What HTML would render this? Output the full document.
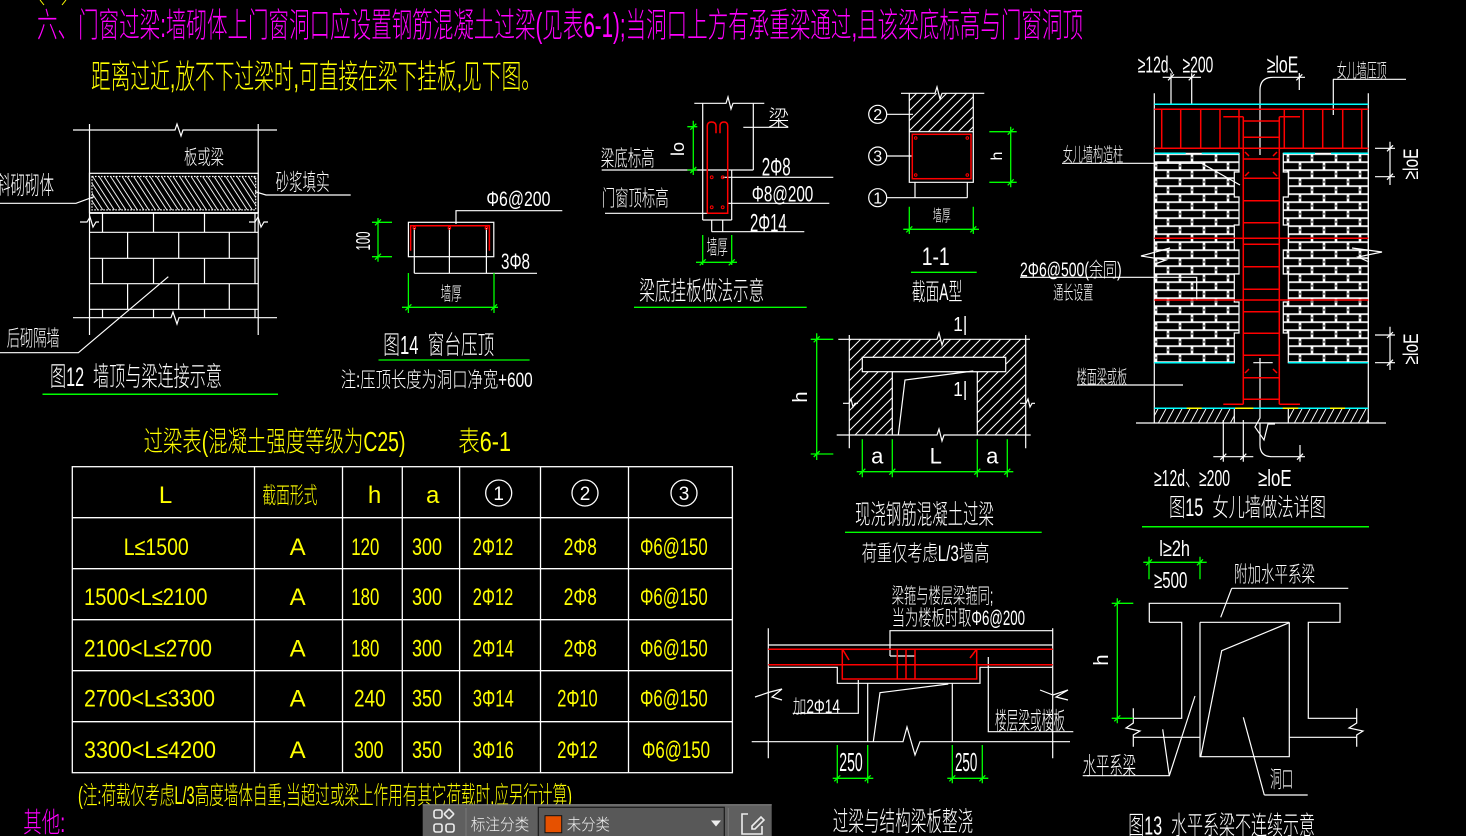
<!DOCTYPE html>
<html><head><meta charset="utf-8">
<style>
html,body{margin:0;padding:0;background:#000;width:1466px;height:836px;overflow:hidden;}
svg{display:block}
text{font-family:"Liberation Sans","Noto Sans CJK SC",sans-serif;font-weight:300;white-space:pre;}
</style></head><body>
<svg width="1466" height="836" viewBox="0 0 1466 836" xmlns="http://www.w3.org/2000/svg">
<defs>
<pattern id="h10" patternUnits="userSpaceOnUse" width="10" height="10">
<path d="M0,10 L10,0 M-1,1 L1,-1 M9,11 L11,9" stroke="#fff" stroke-width="1"/>
</pattern>
<pattern id="h8" patternUnits="userSpaceOnUse" width="8" height="15">
<path d="M0,15 L8,0 M-4,7.5 L0,0 M8,15 L12,7.5" stroke="#fff" stroke-width="1"/>
</pattern>
<pattern id="brick" patternUnits="userSpaceOnUse" x="1142.7" y="153.3" width="24" height="16">
<rect width="24" height="16" fill="#000"/>
<rect y="0" width="24" height="1.7" fill="#fff"/>
<rect y="8" width="24" height="1.7" fill="#fff"/>
<rect x="0" y="0" width="2.6" height="8" fill="#fff"/>
<rect x="0.8" y="3.5" width="1" height="2" fill="#000"/>
<rect x="12" y="8" width="2.6" height="8" fill="#fff"/>
<rect x="12.8" y="11.5" width="1" height="2" fill="#000"/>
</pattern>
<pattern id="slant" patternUnits="userSpaceOnUse" width="11.5" height="40" patternTransform="skewX(33)">
<path d="M1,0 V40 M7.5,0 V40" stroke="#fff" stroke-width="1.1"/>
</pattern>
</defs>

<!-- ===== Header ===== -->
<path d="M40,0 L44,5 M62,5 L66,0" stroke="#ff0" stroke-width="1"/>
<text x="37" y="37" font-size="34" fill="#f0f" textLength="1046" lengthAdjust="spacingAndGlyphs">六、门窗过梁:墙砌体上门窗洞口应设置钢筋混凝土过梁(见表6-1);当洞口上方有承重梁通过,且该梁底标高与门窗洞顶</text>
<text x="91" y="88" font-size="33" fill="#ff0" textLength="450" lengthAdjust="spacingAndGlyphs">距离过近,放不下过梁时,可直接在梁下挂板,见下图。</text>

<!-- ===== Fig 12 ===== -->
<g stroke="#fff" stroke-width="1.2" fill="none">
<path d="M73,130 H175 L177,124 L181,136 L183,130 H277"/>
<path d="M89.5,124 V335 M258.2,124 V335"/>
<rect x="89.5" y="173.3" width="168.7" height="39.4"/>
<rect x="92" y="176.5" width="163.7" height="33.4" fill="url(#slant)" stroke-dasharray="1.5 1.5"/>
<path d="M89.5,213.3 H258.2 M89.5,232.3 H258.2 M89.5,258.3 H258.2 M89.5,283.7 H258.2 M89.5,309.3 H258.2"/>
<path d="M73,317.7 H171 L173,312 L177,324 L179,317.7 H277"/>
<path d="M102.5,213.3 V232.3 M153.5,213.3 V232.3 M204.5,213.3 V232.3 M255,213.3 V232.3"/>
<path d="M127.6,232.3 V258.3 M178.7,232.3 V258.3 M229.3,232.3 V258.3"/>
<path d="M102.5,258.3 V283.7 M153.5,258.3 V283.7 M204.5,258.3 V283.7 M255,258.3 V283.7"/>
<path d="M127.6,283.7 V309.3 M178.7,283.7 V309.3 M229.3,283.7 V309.3"/>
<path d="M102.5,309.3 V317.7 M153.5,309.3 V317.7 M204.5,309.3 V317.7 M255,309.3 V317.7"/>
<path d="M80,222 H87 L90,217 L93,227 L96,222 H99 M249,222 H255 L258,217 L261,227 L264,222 H268"/>
<path d="M0,203.3 H76 L94,196.7"/>
<path d="M350.7,195 H266 L255,191.7"/>
<path d="M0,352.7 H78.4 L168.3,276.7"/>
</g>
<line x1="42.5" y1="394.3" x2="278" y2="394.3" stroke="#0f0" stroke-width="1.5"/>
<g fill="#fff">
<text x="184" y="164" font-size="20" textLength="40" lengthAdjust="spacingAndGlyphs">板或梁</text>
<text x="-4" y="194" font-size="25" textLength="58" lengthAdjust="spacingAndGlyphs">斜砌砌体</text>
<text x="275.6" y="190" font-size="23" textLength="54" lengthAdjust="spacingAndGlyphs">砂浆填实</text>
<text x="6.7" y="346" font-size="22" textLength="53" lengthAdjust="spacingAndGlyphs">后砌隔墙</text>
<text x="50" y="386" font-size="27" textLength="172" lengthAdjust="spacingAndGlyphs">图12  墙顶与梁连接示意</text>
</g>

<!-- ===== Fig 14 ===== -->
<g stroke="#fff" stroke-width="1.2" fill="none">
<rect x="408.4" y="222.3" width="85.4" height="34.4"/>
<path d="M414.3,228 V273.3 M449.4,228 V273.3 M486.4,228 V273.3 M414.3,273.3 H537"/>
<path d="M456,224 V210.7 H562.3"/>
</g>
<path d="M410.6,250.7 V225.7 H489.4 V250.7" stroke="#f00" stroke-width="1.5" fill="none"/>
<g stroke="#f00" fill="none" stroke-width="1"><circle cx="414.3" cy="228" r="1.3"/><circle cx="449.4" cy="228" r="1.3"/><circle cx="486.4" cy="228" r="1.3"/></g>
<g stroke="#0f0" stroke-width="1.3" fill="none">
<path d="M378,218 V261.7 M372,222.3 H392 M372,256.7 H392"/>
<path d="M375,225.3 L381,219.3 M375,259.7 L381,253.7"/>
<path d="M402,307.3 H498 M408.4,273 V313 M494,273 V313"/>
<path d="M405.4,310.3 L411.4,304.3 M491,310.3 L497,304.3"/>
<path d="M378.5,360 H529.6"/>
</g>
<g fill="#fff">
<text x="486.4" y="206" font-size="21" textLength="64" lengthAdjust="spacingAndGlyphs">Φ6@200</text>
<text x="501" y="269" font-size="22" textLength="29" lengthAdjust="spacingAndGlyphs">3Φ8</text>
<text transform="translate(370,241) rotate(-90)" text-anchor="middle" font-size="20" textLength="19" lengthAdjust="spacingAndGlyphs">100</text>
<text x="440.7" y="300" font-size="19" textLength="21" lengthAdjust="spacingAndGlyphs">墙厚</text>
<text x="383.3" y="354" font-size="26" textLength="111" lengthAdjust="spacingAndGlyphs">图14  窗台压顶</text>
<text x="340.7" y="387" font-size="21" textLength="192" lengthAdjust="spacingAndGlyphs">注:压顶长度为洞口净宽+600</text>
</g>

<!-- ===== 梁底挂板 ===== -->
<g stroke="#fff" stroke-width="1.2" fill="none">
<path d="M694.3,103.3 H726 L728,97 L731,109 L733,103.3 H764.3"/>
<path d="M702.7,103.3 V220 M753.3,103.3 V170 M601.7,170 H753.3 M731.7,170 V220 M605,213.3 H707.7"/>
<path d="M702.7,220 H731.7 M711.7,220 V231.7 M722.7,220 V231.7 M711.7,231.7 H804.3"/>
<path d="M743.3,127.3 H788.3 M722.7,177.3 H833.3 M727.7,203.3 H829.3"/>
</g>
<path d="M707.3,213.3 V126 Q707.3,122 711.5,122 Q716,122 716,126 V133.3 M720,133.3 V126 Q720,122 724,122 Q727.7,122 727.7,126 V213.3 H707.3" stroke="#f00" stroke-width="1.5" fill="none"/>
<g stroke="#f00" fill="none" stroke-width="1"><circle cx="711.7" cy="177.3" r="1.4"/><circle cx="722.7" cy="177.3" r="1.4"/><circle cx="711.7" cy="207.3" r="1.4"/><circle cx="722.7" cy="207.3" r="1.4"/></g>
<g stroke="#0f0" stroke-width="1.3" fill="none">
<path d="M693.3,120.7 V175 M687.3,126.7 H697.3 M687.3,170 H697.3"/>
<path d="M690.3,129.7 L696.3,123.7 M690.3,173 L696.3,167"/>
<path d="M702.7,235 V265 M731.7,235 V265 M696,262.3 H737"/>
<path d="M699.7,265.3 L705.7,259.3 M728.7,265.3 L734.7,259.3"/>
<path d="M634,307.3 H806.7"/>
</g>
<g fill="#fff">
<text x="768.3" y="126" font-size="22" textLength="21" lengthAdjust="spacingAndGlyphs">梁</text>
<text x="600.7" y="166" font-size="22" textLength="54" lengthAdjust="spacingAndGlyphs">梁底标高</text>
<text x="601.7" y="206" font-size="22" textLength="67" lengthAdjust="spacingAndGlyphs">门窗顶标高</text>
<text transform="translate(684,149) rotate(-90)" text-anchor="middle" font-size="18" textLength="14" lengthAdjust="spacingAndGlyphs">lo</text>
<text x="761.7" y="175.5" font-size="25" textLength="29" lengthAdjust="spacingAndGlyphs">2Φ8</text>
<text x="751.7" y="201.5" font-size="22" textLength="61.6" lengthAdjust="spacingAndGlyphs">Φ8@200</text>
<text x="750" y="231.5" font-size="25" textLength="36.7" lengthAdjust="spacingAndGlyphs">2Φ14</text>
<text x="706.7" y="254" font-size="20" textLength="21" lengthAdjust="spacingAndGlyphs">墙厚</text>
<text x="639.3" y="300" font-size="26" textLength="125" lengthAdjust="spacingAndGlyphs">梁底挂板做法示意</text>
</g>

<!-- ===== Section 1-1 ===== -->
<rect x="909.3" y="93.3" width="64" height="38.4" fill="url(#h10)"/>
<g stroke="#fff" stroke-width="1.2" fill="none">
<path d="M901,93.3 H935 L937,87 L940,99 L942,93.3 H984.3"/>
<path d="M909.3,93.3 V182.3 H973.3 V93.3 M909.3,131.7 H973.3"/>
<path d="M886.7,197.7 H967.3 M915,182.3 V197.7 M967.3,182.3 V197.7 M887,114.3 H913 M887,156 H912.3"/>
<circle cx="877.7" cy="114.3" r="9"/><circle cx="877.7" cy="156" r="9"/><circle cx="877.7" cy="197.7" r="9"/>
</g>
<rect x="912.3" y="134.3" width="58.7" height="44.4" stroke="#f00" stroke-width="1.5" fill="none"/>
<g stroke="#f00" fill="none" stroke-width="1"><circle cx="915.7" cy="138" r="1.3"/><circle cx="967.3" cy="138" r="1.3"/><circle cx="915.7" cy="175" r="1.3"/><circle cx="967.3" cy="175" r="1.3"/></g>
<g stroke="#0f0" stroke-width="1.3" fill="none">
<path d="M1010.7,126.7 V187.3 M989.3,131.7 H1016.7 M989.3,182.3 H1016.7"/>
<path d="M1007.7,134.7 L1013.7,128.7 M1007.7,185.3 L1013.7,179.3"/>
<path d="M903.3,229.3 H979 M909.3,206.7 V234 M973.3,206.7 V234"/>
<path d="M906.3,232.3 L912.3,226.3 M970.3,232.3 L976.3,226.3"/>
<path d="M911,272.3 H976.7"/>
</g>
<g fill="#fff">
<text x="877.7" y="120" font-size="16" text-anchor="middle">2</text>
<text x="877.7" y="161.7" font-size="16" text-anchor="middle">3</text>
<text x="877.7" y="203.4" font-size="16" text-anchor="middle">1</text>
<text transform="translate(1002,156) rotate(-90)" text-anchor="middle" font-size="16">h</text>
<text x="932.7" y="221" font-size="16" textLength="18" lengthAdjust="spacingAndGlyphs">墙厚</text>
<text x="921.7" y="265" font-size="25" textLength="28" lengthAdjust="spacingAndGlyphs">1-1</text>
<text x="911.7" y="300" font-size="24" textLength="50.6" lengthAdjust="spacingAndGlyphs">截面A型</text>
</g>

<!-- ===== 现浇钢筋混凝土过梁 ===== -->
<path d="M849.3,339.3 H1025.7 V435 H977.3 V371.7 H892.3 V435 H849.3 Z" fill="url(#h10)"/>
<g stroke="#fff" stroke-width="1.2" fill="none">
<path d="M838.3,339.3 H937 L939,333 L942,345 L944,339.3 H1030"/>
<path d="M849.3,335 V448.3 M1025.7,335 V448.3"/>
<path d="M836.7,435 H937 L939,429 L942,441 L944,435 H1030.7"/>
<path d="M892.3,371.7 V435 M977.3,371.7 V435 M892.3,371.7 H977.3"/>
<rect x="862.3" y="357.3" width="143.4" height="14.4" fill="#000"/>
<path d="M898.3,435 L905,380 L973.3,371"/>
<path d="M843,403.3 H849 L851,399 L853,407 L855,403.3 H858 M1020,403.3 H1026 L1028,399 L1030,407 L1032,403.3 H1035"/>
</g>
<g stroke="#0f0" stroke-width="1.3" fill="none">
<path d="M816.7,333.3 V460 M810.7,339.3 H833.3 M810.7,454 H833.3"/>
<path d="M813.7,342.3 L819.7,336.3 M813.7,457 L819.7,451"/>
<path d="M856.7,471.7 H1013.3 M862.3,439.3 V477.3 M892.3,439.3 V477.3 M977.3,439.3 V477.3 M1007.3,439.3 V477.3"/>
<path d="M859.3,474.7 L865.3,468.7 M889.3,474.7 L895.3,468.7 M974.3,474.7 L980.3,468.7 M1004.3,474.7 L1010.3,468.7"/>
<path d="M845,532.3 H1041.7"/>
</g>
<g fill="#fff">
<text x="953.3" y="331" font-size="20" textLength="14" lengthAdjust="spacingAndGlyphs">1|</text>
<text x="953.3" y="396" font-size="20" textLength="14" lengthAdjust="spacingAndGlyphs">1|</text>
<text transform="translate(807,397) rotate(-90)" text-anchor="middle" font-size="20">h</text>
<text x="877.3" y="463.3" font-size="22" text-anchor="middle">a</text>
<text x="935.7" y="463.3" font-size="22" text-anchor="middle">L</text>
<text x="992.3" y="463.3" font-size="22" text-anchor="middle">a</text>
<text x="855" y="524" font-size="27" textLength="139" lengthAdjust="spacingAndGlyphs">现浇钢筋混凝土过梁</text>
<text x="861.7" y="561" font-size="22" textLength="127.6" lengthAdjust="spacingAndGlyphs">荷重仅考虑L/3墙高</text>
</g>

<!-- ===== 过梁与结构梁板整浇 ===== -->
<g stroke="#fff" stroke-width="1.2" fill="none">
<path d="M768.3,628.3 V758.3 M1052.7,628.3 V758.3"/>
<path d="M890,656 V630.7 H1052.7 M890,656 H915"/>
<path d="M768.3,645 H1052.7"/>
<path d="M768.3,667.3 H837.3 V683.3 H980 V667.3 H1052.7"/>
<path d="M867.7,683.3 V741.7 M952.3,683.3 V741.7"/>
<path d="M873.3,741.7 L880,692.7 L948.3,684"/>
<path d="M751.7,741.7 H903 L907,727 L915,755 L920,741.7 H1070"/>
<path d="M792.7,713.3 H858.3 V680"/>
<path d="M988.3,657 V731.7 H1073.3"/>
<path d="M755,697 L770,692 L782,689 L772,697 L782,700"/>
<path d="M1040,690 L1053,695 L1068,690 L1056,697 L1068,700"/>
</g>
<g stroke="#f00" stroke-width="1.5" fill="none">
<path d="M768.3,649.3 H1052.7 M768.3,664.7 H1052.7"/>
<rect x="842.3" y="649.3" width="134.4" height="29.7"/>
<path d="M897.3,649.3 V679 M906,649.3 V679 M915,649.3 V679"/>
<path d="M843,650 L849,660 M976,650 L970,658"/>
</g>
<g stroke="#0f0" stroke-width="1.3" fill="none">
<path d="M837.3,745 V783.3 M867.7,745 V783.3 M832.7,778.3 H873.3 M952.3,745 V783.3 M982.3,745 V783.3 M947.3,778.3 H988.3"/>
<path d="M834.3,781.3 L840.3,775.3 M864.7,781.3 L870.7,775.3 M949.3,781.3 L955.3,775.3 M979.3,781.3 L985.3,775.3"/>
</g>
<g fill="#fff">
<text x="891.7" y="603" font-size="21" textLength="101.6" lengthAdjust="spacingAndGlyphs">梁箍与楼层梁箍同;</text>
<text x="891.7" y="625" font-size="21" textLength="133.3" lengthAdjust="spacingAndGlyphs">当为楼板时取Φ6@200</text>
<text x="792.7" y="713" font-size="19" textLength="47.3" lengthAdjust="spacingAndGlyphs">加2Φ14</text>
<text x="995" y="729" font-size="24" textLength="70" lengthAdjust="spacingAndGlyphs">楼层梁或楼板</text>
<text x="839.3" y="771" font-size="26" textLength="23.4" lengthAdjust="spacingAndGlyphs">250</text>
<text x="955" y="771" font-size="26" textLength="22.3" lengthAdjust="spacingAndGlyphs">250</text>
<text x="832.7" y="831" font-size="27" textLength="140.6" lengthAdjust="spacingAndGlyphs">过梁与结构梁板整浇</text>
</g>

<!-- ===== Fig 13 ===== -->
<g stroke="#fff" stroke-width="1.2" fill="none">
<path d="M1149.3,622.3 V603.3 H1340 V622.3 H1308.3 V718.3 H1356.7 M1149.3,622.3 H1181.7 V718.3 H1133.3"/>
<path d="M1200,622.3 H1289.3 M1200,622.3 V756.7 H1289.3 V622.3"/>
<path d="M1133.3,737.3 H1200 M1289.3,737.3 H1356.7"/>
<path d="M1133.3,708.3 V723 L1126,728 L1140,731 L1133.3,735 V746.7"/>
<path d="M1356.7,708.3 V723 L1349,728 L1363,731 L1356.7,735 V746.7"/>
<path d="M1200.7,756.7 L1221.7,650.7 L1289.3,622.7"/>
<path d="M1231.7,588.3 H1348.3 M1231.7,588.3 L1220.7,617.3"/>
<path d="M1082.7,775.7 H1169.3 L1162.7,729.3 M1169.3,775.7 L1195,696"/>
<path d="M1264.3,795 H1307.7 M1264.3,795 L1243.3,717.3"/>
</g>
<g stroke="#0f0" stroke-width="1.3" fill="none">
<path d="M1143.3,562.3 H1206.7 M1149,556.7 V579.3 M1200,556.7 V579.3"/>
<path d="M1146,565.3 L1152,559.3 M1197,565.3 L1203,559.3"/>
<path d="M1117.3,598.3 V723.3 M1111.7,603.3 H1133.3 M1111.7,718.3 H1133.3"/>
<path d="M1114.3,606.3 L1120.3,600.3 M1114.3,721.3 L1120.3,715.3"/>
</g>
<g fill="#fff">
<text x="1159.3" y="556" font-size="22" textLength="30.7" lengthAdjust="spacingAndGlyphs">l≥2h</text>
<text x="1154" y="588" font-size="23" textLength="33.3" lengthAdjust="spacingAndGlyphs">≥500</text>
<text x="1234" y="582" font-size="22" textLength="81" lengthAdjust="spacingAndGlyphs">附加水平系梁</text>
<text transform="translate(1108,660) rotate(-90)" text-anchor="middle" font-size="20">h</text>
<text x="1082.7" y="774" font-size="24" textLength="53.3" lengthAdjust="spacingAndGlyphs">水平系梁</text>
<text x="1270" y="787" font-size="23" textLength="23.3" lengthAdjust="spacingAndGlyphs">洞口</text>
<text x="1128.3" y="834.5" font-size="26" textLength="186.7" lengthAdjust="spacingAndGlyphs">图13  水平系梁不连续示意</text>
</g>

<!-- ===== Fig 15 ===== -->
<path d="M1154.3,153.3 H1239 V172 H1234.3 V197 H1239 V225 H1234.3 V250 H1239 V274 H1234.3 V302 H1239 V333 H1234.3 V362.7 H1154.3 Z" fill="url(#brick)" stroke="#fff" stroke-width="1.2"/>
<path d="M1368.3,153.3 H1283.3 V172 H1288.3 V197 H1283.3 V225 H1288.3 V250 H1283.3 V274 H1288.3 V302 H1283.3 V333 H1288.3 V362.7 H1368.3 Z" fill="url(#brick)" stroke="#fff" stroke-width="1.2"/>
<rect x="1154.3" y="408.3" width="80" height="14.7" fill="url(#h8)"/>
<rect x="1288.3" y="408.3" width="80" height="14.7" fill="url(#h8)"/>
<g stroke="#fff" stroke-width="1.2" fill="none">
<path d="M1154.3,93.3 V423 M1368.3,93.3 V423"/>
<path d="M1234.3,408.3 V423 M1288.3,408.3 V423"/>
<path d="M1136,423 H1386"/>
<path d="M1260,155 V90 Q1260,77.3 1273,77.3 H1305 M1299.3,73 V90"/>
<path d="M1253.3,148.3 H1272.7 M1253.3,362.7 H1272.7"/>
<path d="M1260,358 V418 L1255,427 L1264,440 L1268,424 H1275"/>
<path d="M1260,423 V445 Q1260,456.7 1272,456.7 H1305 M1300,445 V461.7"/>
<path d="M1213.3,456.7 H1253.3 M1223.3,420 V461.7 M1243.3,420 V461.7"/>
<path d="M1171,73.3 V104.3 M1191.7,73.3 V104.3 M1162.7,77.3 H1201"/>
<path d="M1333,79.3 H1406 M1333.3,79.3 V115"/>
<path d="M1375,148.3 H1395 M1375,176.7 H1395 M1390,141.7 V185"/>
<path d="M1375,335 H1395 M1375,362.7 H1395 M1390,326.7 V370"/>
<path d="M1170,248 L1141,256 L1166,260 L1155,264"/>
<path d="M1352,248 L1382,252 L1358,257 L1369,262"/>
<path d="M1062,163.3 H1201.7 L1240,185"/>
<path d="M1020,277.3 H1196.7 V300"/>
<path d="M1077,385 H1183"/>
<path d="M1168,80.3 L1174,74.3 M1188.7,80.3 L1194.7,74.3 M1296.3,80.3 L1302.3,74.3"/>
<path d="M1387,151.3 L1393,145.3 M1387,179.7 L1393,173.7 M1387,338 L1393,332 M1387,365.7 L1393,359.7"/>
<path d="M1220.3,459.7 L1226.3,453.7 M1240.3,459.7 L1246.3,453.7 M1297,459.7 L1303,453.7"/>
</g>
<g stroke="#0ff" stroke-width="1.5">
<path d="M1154.3,104.3 H1368.3"/>
<path d="M1154.3,153.3 H1185.7 M1201.7,153.3 H1239 M1283.3,153.3 H1315 M1331,153.3 H1368.3"/>
<path d="M1154.3,362.7 H1234.3 M1288.3,362.7 H1368.3"/>
<path d="M1154.3,408.3 H1368.3"/>
</g>
<g stroke="#ff0" stroke-width="1.5">
<path d="M1186.7,408.3 H1201.7 M1235,408.3 H1253.3 M1282.7,408.3 H1298.3 M1330,408.3 H1345"/>
</g>
<g stroke="#f00" stroke-width="1.5" fill="none">
<path d="M1154.3,109.3 H1368.3 M1154.3,148.3 H1368.3"/>
<path d="M1161.7,109.3 V148.3 M1180.7,109.3 V148.3 M1200.7,109.3 V148.3 M1220,109.3 V148.3 M1239,109.3 V148.3 M1284.3,109.3 V148.3 M1303.3,109.3 V148.3 M1322.7,109.3 V148.3 M1342.7,109.3 V148.3 M1361.7,109.3 V148.3"/>
<path d="M1243.3,116.7 V404.3 M1279.3,116.7 V404.3"/>
<path d="M1223.3,116.7 H1243.3 M1279.3,116.7 H1300 M1223.3,404.3 H1243.3 M1279.3,404.3 H1300"/>
<path d="M1243.3,121 H1279.3 M1243.3,137.3 H1279.3 M1243.3,159 H1279.3 M1243.3,178.3 H1279.3 M1243.3,200.7 H1279.3 M1243.3,222.7 H1279.3 M1243.3,244.3 H1279.3 M1243.3,266.7 H1279.3 M1243.3,289.3 H1279.3 M1243.3,311.7 H1279.3 M1243.3,333.3 H1279.3 M1243.3,355.3 H1279.3 M1243.3,377.7 H1279.3 M1243.3,399.3 H1279.3"/>
<path d="M1154.3,238.3 H1368.3 M1154.3,300 H1368.3"/>
<path d="M1245,152 L1249,156 M1277,152 L1273,156 M1245,176 L1249,172 M1277,176 L1273,172 M1245,373 L1249,369 M1277,373 L1273,369"/>
</g>
<g fill="#fff">
<text x="1137.7" y="72.5" font-size="23" textLength="75.6" lengthAdjust="spacingAndGlyphs">≥12d、≥200</text>
<text x="1266.7" y="72.5" font-size="23" textLength="31.6" lengthAdjust="spacingAndGlyphs">≥loE</text>
<text x="1336.7" y="77" font-size="19" textLength="50" lengthAdjust="spacingAndGlyphs">女儿墙压顶</text>
<text x="1062.7" y="161" font-size="19" textLength="60.6" lengthAdjust="spacingAndGlyphs">女儿墙构造柱</text>
<text x="1020" y="276.5" font-size="20" textLength="101.7" lengthAdjust="spacingAndGlyphs">2Φ6@500(余同)</text>
<text x="1053.3" y="299" font-size="19" textLength="40" lengthAdjust="spacingAndGlyphs">通长设置</text>
<text x="1076.7" y="383.5" font-size="19" textLength="50.6" lengthAdjust="spacingAndGlyphs">楼面梁或板</text>
<text transform="translate(1418,164) rotate(-90)" text-anchor="middle" font-size="21" textLength="31" lengthAdjust="spacingAndGlyphs">≥loE</text>
<text transform="translate(1418,349) rotate(-90)" text-anchor="middle" font-size="21" textLength="31" lengthAdjust="spacingAndGlyphs">≥loE</text>
<text x="1154" y="486" font-size="23" textLength="76" lengthAdjust="spacingAndGlyphs">≥12d、≥200</text>
<text x="1258" y="486" font-size="23" textLength="33.7" lengthAdjust="spacingAndGlyphs">≥loE</text>
<text x="1169" y="516" font-size="25" textLength="157" lengthAdjust="spacingAndGlyphs">图15  女儿墙做法详图</text>
</g>
<line x1="1142" y1="526.7" x2="1369" y2="526.7" stroke="#0f0" stroke-width="1.5"/>

<!-- ===== Table ===== -->
<text x="143.6" y="451" font-size="28" fill="#ff0" textLength="261.8" lengthAdjust="spacingAndGlyphs">过梁表(混凝土强度等级为C25)</text>
<text x="458.2" y="451" font-size="28" fill="#ff0" textLength="52.8" lengthAdjust="spacingAndGlyphs">表6-1</text>
<g stroke="#fff" stroke-width="1.3" fill="none">
<rect x="72.3" y="466.7" width="660.1" height="306"/>
<path d="M72.3,517.7 H732.4 M72.3,568.7 H732.4 M72.3,619.7 H732.4 M72.3,670.7 H732.4 M72.3,721.7 H732.4"/>
<path d="M254.5,466.7 V772.7 M342.5,466.7 V772.7 M402.3,466.7 V772.7 M459.6,466.7 V772.7 M540.5,466.7 V772.7 M628.5,466.7 V772.7"/>
<circle cx="498.7" cy="493" r="13"/><circle cx="585" cy="493" r="13"/><circle cx="684" cy="493" r="13"/>
</g>
<g fill="#fff" font-size="19" text-anchor="middle">
<text x="498.7" y="500">1</text><text x="585" y="500">2</text><text x="684" y="500">3</text>
</g>
<g fill="#ff0">
<text x="165.6" y="503" font-size="24" text-anchor="middle">L</text>
<text x="262.4" y="503" font-size="23" textLength="55" lengthAdjust="spacingAndGlyphs">截面形式</text>
<text x="374.6" y="503" font-size="24" text-anchor="middle">h</text>
<text x="432.7" y="503" font-size="24" text-anchor="middle">a</text>

<text x="123.8" y="555" font-size="24" textLength="65" lengthAdjust="spacingAndGlyphs">L≤1500</text>
<text x="297.6" y="555" font-size="24" text-anchor="middle">A</text>
<text x="351.3" y="555" font-size="24" textLength="28" lengthAdjust="spacingAndGlyphs">120</text>
<text x="412" y="555" font-size="24" textLength="30" lengthAdjust="spacingAndGlyphs">300</text>
<text x="472.8" y="555" font-size="24" textLength="40.5" lengthAdjust="spacingAndGlyphs">2Φ12</text>
<text x="563.8" y="555" font-size="24" textLength="33" lengthAdjust="spacingAndGlyphs">2Φ8</text>
<text x="640" y="555" font-size="24" textLength="67.7" lengthAdjust="spacingAndGlyphs">Φ6@150</text>

<text x="84" y="605" font-size="24" textLength="123.5" lengthAdjust="spacingAndGlyphs">1500&lt;L≤2100</text>
<text x="297.6" y="605" font-size="24" text-anchor="middle">A</text>
<text x="351.3" y="605" font-size="24" textLength="28" lengthAdjust="spacingAndGlyphs">180</text>
<text x="412" y="605" font-size="24" textLength="30" lengthAdjust="spacingAndGlyphs">300</text>
<text x="472.8" y="605" font-size="24" textLength="40.5" lengthAdjust="spacingAndGlyphs">2Φ12</text>
<text x="563.8" y="605" font-size="24" textLength="33" lengthAdjust="spacingAndGlyphs">2Φ8</text>
<text x="640" y="605" font-size="24" textLength="67.7" lengthAdjust="spacingAndGlyphs">Φ6@150</text>

<text x="84" y="656.5" font-size="24" textLength="128" lengthAdjust="spacingAndGlyphs">2100&lt;L≤2700</text>
<text x="297.6" y="656.5" font-size="24" text-anchor="middle">A</text>
<text x="351.3" y="656.5" font-size="24" textLength="28" lengthAdjust="spacingAndGlyphs">180</text>
<text x="412" y="656.5" font-size="24" textLength="30" lengthAdjust="spacingAndGlyphs">300</text>
<text x="472.8" y="656.5" font-size="24" textLength="41" lengthAdjust="spacingAndGlyphs">2Φ14</text>
<text x="563.8" y="656.5" font-size="24" textLength="33" lengthAdjust="spacingAndGlyphs">2Φ8</text>
<text x="640" y="656.5" font-size="24" textLength="67.7" lengthAdjust="spacingAndGlyphs">Φ6@150</text>

<text x="84" y="706.5" font-size="24" textLength="131" lengthAdjust="spacingAndGlyphs">2700&lt;L≤3300</text>
<text x="297.6" y="706.5" font-size="24" text-anchor="middle">A</text>
<text x="354" y="706.5" font-size="24" textLength="31.6" lengthAdjust="spacingAndGlyphs">240</text>
<text x="412" y="706.5" font-size="24" textLength="30" lengthAdjust="spacingAndGlyphs">350</text>
<text x="472.8" y="706.5" font-size="24" textLength="41" lengthAdjust="spacingAndGlyphs">3Φ14</text>
<text x="557.2" y="706.5" font-size="24" textLength="40.5" lengthAdjust="spacingAndGlyphs">2Φ10</text>
<text x="640" y="706.5" font-size="24" textLength="67.7" lengthAdjust="spacingAndGlyphs">Φ6@150</text>

<text x="84" y="758" font-size="24" textLength="132" lengthAdjust="spacingAndGlyphs">3300&lt;L≤4200</text>
<text x="297.6" y="758" font-size="24" text-anchor="middle">A</text>
<text x="354" y="758" font-size="24" textLength="29.5" lengthAdjust="spacingAndGlyphs">300</text>
<text x="412" y="758" font-size="24" textLength="30" lengthAdjust="spacingAndGlyphs">350</text>
<text x="472.8" y="758" font-size="24" textLength="41" lengthAdjust="spacingAndGlyphs">3Φ16</text>
<text x="557.2" y="758" font-size="24" textLength="40.5" lengthAdjust="spacingAndGlyphs">2Φ12</text>
<text x="642" y="758" font-size="24" textLength="68" lengthAdjust="spacingAndGlyphs">Φ6@150</text>

<text x="78" y="804" font-size="25" textLength="494" lengthAdjust="spacingAndGlyphs">(注:荷载仅考虑L/3高度墙体自重,当超过或梁上作用有其它荷载时,应另行计算)</text>
</g>
<text x="23.3" y="832" font-size="28" fill="#f0f" textLength="42" lengthAdjust="spacingAndGlyphs">其他:</text>

<!-- ===== Toolbar ===== -->
<rect x="422.7" y="804.3" width="349" height="32" fill="#5f5f5f"/>
<rect x="422.7" y="804.3" width="349" height="1" fill="#8a8a8a"/>
<g stroke="#ececec" stroke-width="1.6" fill="none">
<rect x="434" y="810" width="8" height="8" rx="2"/>
<rect x="445.5" y="810.5" width="7" height="7" rx="1" transform="rotate(45 449 814)"/>
<rect x="434" y="824" width="8" height="8" rx="2"/>
<rect x="446" y="824" width="8" height="8" rx="2"/>
</g>
<line x1="466" y1="808" x2="466" y2="836" stroke="#7a7a7a" stroke-width="1"/>
<text x="470.7" y="830" font-size="16" fill="#f0f0f0" textLength="58.6" lengthAdjust="spacingAndGlyphs">标注分类</text>
<rect x="538.3" y="807.3" width="186" height="30" fill="#585858" stroke="#1a1a1a" stroke-width="1.2"/>
<rect x="545" y="815.7" width="16.7" height="17" fill="#e65100" stroke="#111" stroke-width="1"/>
<text x="566.7" y="830" font-size="16" fill="#f0f0f0" textLength="43.3" lengthAdjust="spacingAndGlyphs">未分类</text>
<polygon points="711,820.5 721,820.5 716,826.5" fill="#eee"/>
<line x1="728.3" y1="808" x2="728.3" y2="836" stroke="#7a7a7a" stroke-width="1"/>
<g stroke="#ececec" stroke-width="1.6" fill="none">
<path d="M748,814 H742 V834 H762 V826"/>
<path d="M752,826 L761,817 L764,820 L755,829 H752 Z"/>
</g>
</svg>
</body></html>
